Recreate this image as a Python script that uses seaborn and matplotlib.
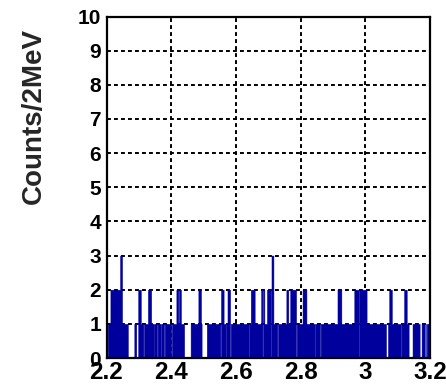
import numpy as np
import pandas as pd
import matplotlib
matplotlib.use("Agg")
import matplotlib.pyplot as plt
import seaborn as sns
from matplotlib.ticker import MultipleLocator

# ---- data (counts per 2 MeV bin) ----
mass_min = 2.2
mass_max = 3.2
counts_220_230 = "110111" "222222222222222" "333" "111111111" "0000000000" "111" "000" "2"
counts_230_240 = "222" "1111" "0" "111111" "22222" "1111" "0" "1111" "0" "11111" "0" "1111" "0" "1111111111"
counts_240_250 = "0" "1111111" "222" "1" "222" "11111" "0000000000" "111111111111" "2222" "1" "000"
counts_250_260 = "00000" "111111111111111111111" "0" "2222" "111" "0" "11" "2222" "0" "11111111"
counts_260_270 = "11111111111111111111" "0" "11" "222222" "1111111111" "22" "0" "22" "1111" "22"
counts_270_280 = "2222" "0" "333" "111111" "0" "1111111111111" "222" "111" "222222222" "0" "111111"
counts_280_290 = "111" "222222" "1111111111111" "0" "1111111" "0" "1111111111111111111"
counts_290_300 = "1111111" "222222" "11111111111111111111" "2222222" "0" "222222222"
counts_300_310 = "22" "111111111111111111111111111111" "000" "11" "2222" "111111111"
counts_310_320 = "11111" "0" "1111" "2222" "111" "000000" "11111111111" "000" "11111" "00" "1" "0" "1111"

x_ticks = [2.2, 2.4, 2.6, 2.8, 3.0, 3.2]
x_tick_labels = ["2.2", "2.4", "2.6", "2.8", "3", "3.2"]
y_ticks = [0, 1, 2, 3, 4, 5, 6, 7, 8, 9, 10]
y_label = "Counts/2MeV"
bar_color = "#00009C"

chunks = [counts_220_230, counts_230_240, counts_240_250, counts_250_260,
          counts_260_270, counts_270_280, counts_280_290, counts_290_300,
          counts_300_310, counts_310_320]
counts = [int(c) for c in "".join(chunks)]
edges = np.linspace(mass_min, mass_max, len(counts) + 1)
centers = 0.5 * (edges[:-1] + edges[1:])
df = pd.DataFrame({"mass": centers, "counts": counts})

sns.set_style("white")
plt.rcParams["font.family"] = ["Liberation Sans", "DejaVu Sans"]
plt.rcParams["font.weight"] = "bold"
plt.rcParams["axes.axisbelow"] = True

W, H = 446, 386
fig = plt.figure(figsize=(W / 100, H / 100), dpi=100)
left, right, top, bottom = 106.5, 430, 16.5, 358
ax = fig.add_axes([left / W, 1 - bottom / H, (right - left) / W, (bottom - top) / H])

sns.histplot(data=df, x="mass", weights="counts", bins=edges.tolist(), element="step",
             fill=True, color=bar_color, alpha=1, linewidth=0.35,
             edgecolor=bar_color, ax=ax)

ax.set_xlim(mass_min, mass_max)
ax.set_ylim(0, 10)
ax.set_xlabel("")
ax.set_ylabel("")
ax.set_xticks(x_ticks)
ax.set_xticklabels(x_tick_labels)
ax.set_yticks(y_ticks)
ax.set_yticklabels([str(v) for v in y_ticks])
ax.xaxis.set_minor_locator(MultipleLocator(0.05))
ax.yaxis.set_minor_locator(MultipleLocator(0.1))

ax.grid(True, which="major", color="black", linestyle=(0, (2.0, 1.6)), linewidth=1.4)
ax.tick_params(which="major", direction="in", length=5, width=1.2, colors="black",
               top=False, right=False)
ax.tick_params(axis="y", which="major", pad=4, labelsize=15)
ax.tick_params(axis="x", which="major", pad=2.5, labelsize=17.5)
ax.tick_params(which="minor", direction="in", length=2.5, width=1.0, colors="black",
               top=False, right=False)
for lab in ax.get_xticklabels() + ax.get_yticklabels():
    lab.set_fontweight("bold")

for sp in ax.spines.values():
    sp.set_visible(True)
    sp.set_color("black")
    sp.set_linewidth(1.6)

fig.text(34 / W, 1 - 116 / H, y_label, rotation=90, ha="center", va="center",
         fontsize=20, fontweight="bold")

fig.savefig("out.png", dpi=100)
